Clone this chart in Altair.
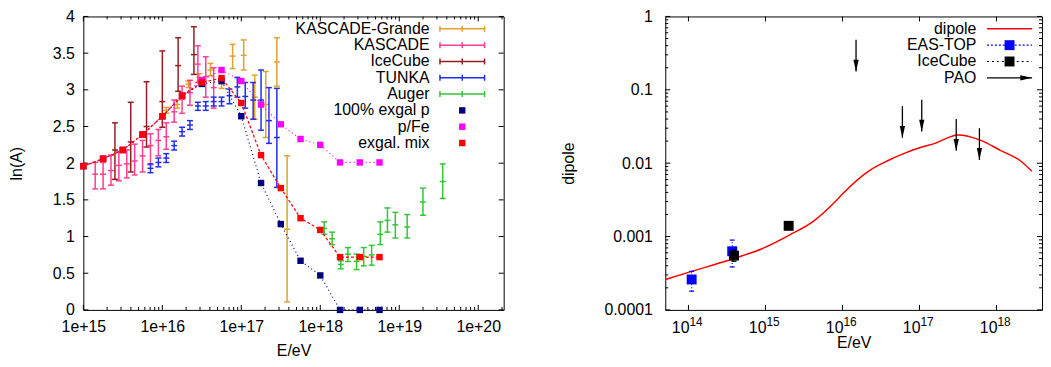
import altair as alt
import pandas as pd

FONT = "Liberation Sans"
FS = 16

# ---------------- Left panel: ln(A) vs E ----------------
model_logE = [15.0, 15.25, 15.5, 15.75, 16.0, 16.25, 16.5, 16.75, 17.0, 17.25,
              17.5, 17.75, 18.0, 18.25, 18.5, 18.75]
model_p = [1.96, 2.06, 2.18, 2.39, 2.64, 2.92, 3.08, 3.12, 2.64, 1.73,
           1.17, 0.67, 0.47, 0.0, 0.0, 0.0]
model_pfe = [1.96, 2.06, 2.18, 2.39, 2.64, 2.92, 3.13, 3.27, 3.12, 2.80,
             2.53, 2.33, 2.25, 2.01, 2.01, 2.01]
model_mix = [1.96, 2.06, 2.18, 2.39, 2.64, 2.92, 3.10, 3.16, 2.82, 2.11,
             1.66, 1.25, 1.09, 0.72, 0.72, 0.72]

kg_logE = [16.05, 16.19, 16.33, 16.47, 16.61, 16.75, 16.89, 17.03, 17.17, 17.31, 17.45, 17.58]
kg_val = [2.72, 2.80, 3.08, 3.17, 3.27, 3.08, 3.46, 3.47, 2.90, 2.80, 3.38, 1.10]
kg_lo = [2.68, 2.75, 3.03, 3.12, 3.19, 3.02, 3.29, 3.27, 2.60, 2.35, 3.05, 0.11]
kg_hi = [2.76, 2.86, 3.12, 3.22, 3.36, 3.13, 3.62, 3.68, 3.20, 3.25, 3.71, 2.10]

ka_logE = [15.15, 15.25, 15.35, 15.45, 15.55, 15.65, 15.75, 15.85, 15.95, 16.05,
           16.15, 16.25, 16.35, 16.45, 16.55, 16.65]
ka_val = [1.85, 1.85, 1.90, 1.97, 1.99, 2.03, 2.10, 2.24, 2.31, 2.36,
          2.70, 2.87, 2.96, 3.35, 3.18, 3.03]
ka_lo = [1.65, 1.65, 1.70, 1.76, 1.80, 1.84, 1.88, 1.98, 2.10, 2.19,
         2.56, 2.68, 2.79, 3.10, 2.90, 2.75]
ka_hi = [2.01, 2.01, 2.11, 2.16, 2.18, 2.26, 2.31, 2.40, 2.46, 2.55,
         2.86, 3.05, 3.13, 3.60, 3.45, 3.30]

ic_logE = [15.4, 15.6, 15.8, 16.0, 16.2, 16.4]
ic_val = [2.18, 2.29, 2.50, 2.84, 3.33, 3.48]
ic_lo = [1.78, 1.88, 2.22, 2.49, 2.98, 3.21]
ic_hi = [2.55, 2.83, 3.11, 3.53, 3.71, 3.86]

tu_logE = [15.85, 15.95, 16.05, 16.15, 16.25, 16.35, 16.45, 16.55, 16.65, 16.75,
           16.85, 16.95, 17.05, 17.15, 17.25, 17.35, 17.45]
tu_val = [1.93, 2.01, 2.07, 2.24, 2.43, 2.52, 2.78, 2.78, 2.84, 2.84,
          2.92, 3.04, 2.91, 2.86, 2.86, 2.58, 2.35]
tu_lo = [1.87, 1.95, 2.01, 2.18, 2.37, 2.46, 2.72, 2.72, 2.78, 2.78,
         2.81, 2.90, 2.75, 2.60, 2.45, 2.27, 1.67]
tu_hi = [1.99, 2.07, 2.13, 2.30, 2.49, 2.58, 2.83, 2.84, 2.90, 2.90,
         3.01, 3.17, 3.10, 3.10, 3.27, 3.03, 3.02]

au_logE = [18.05, 18.15, 18.26, 18.35, 18.46, 18.55, 18.65, 18.76, 18.85, 18.95, 19.1, 19.3, 19.55]
au_val = [1.11, 0.97, 0.62, 0.76, 0.66, 0.73, 0.75, 1.03, 1.22, 1.16, 1.13, 1.47, 1.75]
au_lo = [1.03, 0.89, 0.56, 0.66, 0.55, 0.60, 0.61, 0.89, 1.06, 0.98, 0.98, 1.29, 1.52]
au_hi = [1.20, 1.06, 0.67, 0.85, 0.76, 0.85, 0.88, 1.20, 1.39, 1.33, 1.30, 1.66, 1.99]

left_xticks = [1e15, 1e16, 1e17, 1e18, 1e19, 1e20]
left_xminor = [m * 10 ** k for k in range(15, 21) for m in range(2, 10) if m * 10 ** k <= 2.1e20]
left_yticks = [0, 0.5, 1, 1.5, 2, 2.5, 3, 3.5, 4]

# ---------------- Right panel: dipole vs E ----------------
dip_logE = [13.70, 14.0, 14.56, 15.0, 15.31, 15.625, 15.92, 16.0, 16.35, 16.6,
            16.77, 17.0, 17.2, 17.5, 17.79, 18.05, 18.3, 18.46]
dip_log = [-3.585, -3.488, -3.31, -3.145, -2.98, -2.79, -2.51, -2.42, -2.10, -1.96,
           -1.88, -1.79, -1.73, -1.615, -1.685, -1.825, -1.96, -2.11]

eas_E = [1.1e14, 3.7e14]
eas_val = [2.6e-4, 6.3e-4]
eas_lo = [1.8e-4, 3.85e-4]
eas_hi = [3.35e-4, 8.95e-4]

icd_E = [3.9e14, 2.0e15]
icd_val = [5.5e-4, 1.4e-3]
icd_lo = [4.6e-4, 1.25e-3]
icd_hi = [6.5e-4, 1.55e-3]

pao_E = [1.5e16, 6.0e16, 1.07e17, 3.0e17, 6.0e17]
pao_ul = [0.48, 0.060, 0.073, 0.040, 0.030]
pao_arrow_factor = 0.37

right_xticks = [1e14, 1e15, 1e16, 1e17, 1e18]
right_xexp = ["14", "15", "16", "17", "18"]
right_yticks = [1e-4, 1e-3, 1e-2, 1e-1, 1]
right_yminor = [m * 10.0 ** k for k in range(-4, 0) for m in range(2, 10)]

# ---------------- sizes / scales ----------------
W1, W2, H = 424, 380, 296
xs1 = alt.Scale(type="log", domain=[1e15, 2.1e20], nice=False, padding=0)
ys1 = alt.Scale(type="linear", domain=[0, 4], nice=False, zero=False, padding=0)
xs2 = alt.Scale(type="log", domain=[5e13, 3.9e18], nice=False, padding=0)
ys2 = alt.Scale(type="log", domain=[1e-4, 1], nice=False, padding=0)


def X(f, sc):
    return alt.X(f"{f}:Q", scale=sc, axis=None)


def Y(f, sc):
    return alt.Y(f"{f}:Q", scale=sc, axis=None)


ONE = pd.DataFrame({"a": [0]})


def frame_ticks(xs, ys, W, xmaj, xmin, ymaj, ymin, L=5, l=3):
    out = []
    for vals, ln in [(xmaj, L), (xmin, l)]:
        if not vals:
            continue
        d = alt.Chart(pd.DataFrame({"t": vals}))
        out.append(d.mark_rule(color="black", strokeWidth=1).encode(
            x=X("t", xs), y=alt.value(H), y2=alt.value(H - ln)))
        out.append(d.mark_rule(color="black", strokeWidth=1).encode(
            x=X("t", xs), y=alt.value(0), y2=alt.value(ln)))
    for vals, ln in [(ymaj, L), (ymin, l)]:
        if not vals:
            continue
        d = alt.Chart(pd.DataFrame({"t": vals}))
        out.append(d.mark_rule(color="black", strokeWidth=1).encode(
            y=Y("t", ys), x=alt.value(0), x2=alt.value(ln)))
        out.append(d.mark_rule(color="black", strokeWidth=1).encode(
            y=Y("t", ys), x=alt.value(W), x2=alt.value(W - ln)))
    return out


def errbars(Evals, val, lo, hi, color, xs, ys, dash=None, width=1.5, cap=6, center=True):
    df = pd.DataFrame({"E": Evals, "v": val, "lo": lo, "hi": hi})
    b = alt.Chart(df)
    kw = dict(color=color, strokeWidth=width)
    if dash:
        kw["strokeDash"] = dash
    out = [b.mark_rule(**kw).encode(x=X("E", xs), y=Y("lo", ys), y2=alt.Y2("hi:Q"))]
    fields = ["lo", "hi"] + (["v"] if center else [])
    for f in fields:
        out.append(b.mark_tick(color=color, orient="horizontal", size=cap,
                               thickness=width, opacity=1).encode(x=X("E", xs), y=Y(f, ys)))
    return out


def ltext(px, py, s):
    return alt.Chart(ONE).mark_text(align="right", baseline="middle", font=FONT,
                                    fontSize=FS, color="black").encode(
        x=alt.value(px), y=alt.value(py), text=alt.value(s))


def lrule(x1, x2, y1, y2, color, width=1.5, dash=None):
    kw = dict(color=color, strokeWidth=width)
    if dash:
        kw["strokeDash"] = dash
    return alt.Chart(ONE).mark_rule(**kw).encode(
        x=alt.value(x1), x2=alt.value(x2), y=alt.value(y1), y2=alt.value(y2))


def lsquare(px, py, color, size):
    return alt.Chart(ONE).mark_square(color=color, size=size, opacity=1, filled=True).encode(
        x=alt.value(px), y=alt.value(py))


E = lambda logs: [10 ** v for v in logs]

# ---------------- build left panel ----------------
axdf = pd.DataFrame({"E": [1e15, 2.1e20], "v": [0, 4]})
left_layers = [alt.Chart(axdf).mark_point(opacity=0).encode(
    x=alt.X("E:Q", scale=xs1, title="E/eV",
            axis=alt.Axis(values=left_xticks, labelExpr="'1e+' + round(log(datum.value)/LN10)",
                          labelPadding=9, titlePadding=8)),
    y=alt.Y("v:Q", scale=ys1, title="ln(A)",
            axis=alt.Axis(values=left_yticks, format="~g", labelPadding=9, titlePadding=28)))]
left_layers += frame_ticks(xs1, ys1, W1, left_xticks, left_xminor, left_yticks, [])

C_KG, C_KA, C_IC, C_TU, C_AU = "#dfa22f", "#ff3d94", "#951e1e", "#1f2ff0", "#35c535"
C_P, C_PFE, C_MIX = "#000080", "#ff00ff", "#ff0000"

left_layers += errbars(E(kg_logE), kg_val, kg_lo, kg_hi, C_KG, xs1, ys1)
left_layers += errbars(E(ka_logE), ka_val, ka_lo, ka_hi, C_KA, xs1, ys1)
left_layers += errbars(E(ic_logE), ic_val, ic_lo, ic_hi, C_IC, xs1, ys1)
left_layers += errbars(E(tu_logE), tu_val, tu_lo, tu_hi, C_TU, xs1, ys1)
left_layers += errbars(E(au_logE), au_val, au_lo, au_hi, C_AU, xs1, ys1)

for vals, col, dash in [(model_p, C_P, [1, 3]), (model_pfe, C_PFE, [1, 3]), (model_mix, C_MIX, [3, 2])]:
    df = pd.DataFrame({"E": E(model_logE), "v": vals})
    b = alt.Chart(df)
    left_layers.append(b.mark_line(color=col, strokeWidth=1.2, strokeDash=dash).encode(
        x=X("E", xs1), y=Y("v", ys1)))
    left_layers.append(b.mark_square(color=col, size=42, opacity=1).encode(
        x=X("E", xs1), y=Y("v", ys1)))

# left legend
tx = W1 - 74.8
sx1, sx2 = W1 - 64.3, W1 - 19.3
sxc = (sx1 + sx2) / 2
rows = [12.5 + 16.45 * i for i in range(8)]
leg_err = [("KASCADE-Grande", C_KG), ("KASCADE", C_KA), ("IceCube", C_IC),
           ("TUNKA", C_TU), ("Auger", C_AU)]
for i, (lab, col) in enumerate(leg_err):
    y = rows[i]
    left_layers.append(ltext(tx, y, lab))
    left_layers.append(lrule(sx1, sx2, y, y, col))
    for xx in (sx1, sxc, sx2):
        left_layers.append(lrule(xx, xx, y - 3, y + 3, col))
leg_mod = [("100% exgal p", C_P), ("p/Fe", C_PFE), ("exgal. mix", C_MIX)]
for j, (lab, col) in enumerate(leg_mod):
    y = rows[5 + j]
    left_layers.append(ltext(tx, y, lab))
    left_layers.append(lsquare(sxc, y, col, 42))

left = alt.layer(*left_layers).resolve_axis(x="independent", y="independent").properties(
    width=W1, height=H)

# ---------------- build right panel ----------------
dip_df = pd.DataFrame({"E": E(dip_logE), "d": [10 ** v for v in dip_log]})
right_layers = [alt.Chart(dip_df).mark_line(color="#ff0000", strokeWidth=1.5,
                                            interpolate="monotone").encode(
    x=alt.X("E:Q", scale=xs2, title="E/eV",
            axis=alt.Axis(labels=False, titlePadding=25)),
    y=alt.Y("d:Q", scale=ys2, title="dipole",
            axis=alt.Axis(values=right_yticks, format="~g", labelPadding=13, titlePadding=28)))]
right_layers += frame_ticks(xs2, ys2, W2, right_xticks, [], right_yticks, right_yminor)

right_layers += errbars(eas_E, eas_val, eas_lo, eas_hi, "#0000ff", xs2, ys2,
                        dash=[1, 2], width=1.2, cap=5, center=False)
right_layers.append(alt.Chart(pd.DataFrame({"E": eas_E, "v": eas_val})).mark_square(
    color="#0000ff", size=100, opacity=1).encode(x=X("E", xs2), y=Y("v", ys2)))
right_layers += errbars(icd_E, icd_val, icd_lo, icd_hi, "#000000", xs2, ys2,
                        dash=[1, 2], width=1.2, cap=5, center=False)
right_layers.append(alt.Chart(pd.DataFrame({"E": icd_E, "v": icd_val})).mark_square(
    color="#000000", size=100, opacity=1).encode(x=X("E", xs2), y=Y("v", ys2)))

pao_df = pd.DataFrame({"E": pao_E, "ul": pao_ul,
                       "tip": [u * pao_arrow_factor for u in pao_ul]})
pb = alt.Chart(pao_df)
right_layers.append(pb.mark_rule(color="black", strokeWidth=1.3).encode(
    x=X("E", xs2), y=Y("ul", ys2), y2=alt.Y2("tip:Q")))
right_layers.append(pb.mark_point(shape="M-0.45,-1L0,1L0.45,-1Z", filled=True, size=140,
                                  color="black", opacity=1, yOffset=-6).encode(
    x=X("E", xs2), y=Y("tip", ys2)))

lab_df = pd.DataFrame({"E": right_xticks, "exp": right_xexp, "base": ["10"] * 5})
lb = alt.Chart(lab_df)
right_layers.append(lb.mark_text(align="right", baseline="alphabetic", font=FONT,
                                 fontSize=FS, color="black", dx=1).encode(
    x=X("E", xs2), y=alt.value(H + 23), text="base:N"))
right_layers.append(lb.mark_text(align="left", baseline="alphabetic", font=FONT,
                                 fontSize=12, color="black", dx=1).encode(
    x=X("E", xs2), y=alt.value(H + 16), text="exp:N"))

rtx = W2 - 66.2
rsx1, rsx2 = W2 - 55.5, W2 - 10
rsxc = (rsx1 + rsx2) / 2
right_layers.append(ltext(rtx, rows[0], "dipole"))
right_layers.append(lrule(rsx1, rsx2, rows[0], rows[0], "#ff0000"))
right_layers.append(ltext(rtx, rows[1], "EAS-TOP"))
right_layers.append(lrule(rsx1, rsx2, rows[1], rows[1], "#0000ff", width=1.2, dash=[2, 2]))
right_layers.append(lsquare(rsxc, rows[1], "#0000ff", 100))
right_layers.append(ltext(rtx, rows[2], "IceCube"))
right_layers.append(lrule(rsx1, rsx2, rows[2], rows[2], "#000000", width=1.2, dash=[2, 3]))
right_layers.append(lsquare(rsxc, rows[2], "#000000", 100))
right_layers.append(ltext(rtx, rows[3], "PAO"))
right_layers.append(lrule(rsx1, rsx2, rows[3], rows[3], "#000000", width=1.3))
right_layers.append(alt.Chart(ONE).mark_point(shape="M-1,-0.45L1,0L-1,0.45Z", filled=True,
                                              size=140, color="black", opacity=1,
                                              xOffset=-6).encode(
    x=alt.value(rsx2), y=alt.value(rows[3])))

right = alt.layer(*right_layers).resolve_axis(x="independent", y="independent").properties(
    width=W2, height=H)

chart = alt.hconcat(left, right, spacing=52).properties(
    padding={"left": 0, "top": -2, "right": 0, "bottom": 0}
).configure_view(stroke="black", strokeWidth=1).configure_axis(
    domain=False, ticks=False, tickSize=0, grid=False, labelFlush=False,
    labelFont=FONT, labelFontSize=FS, labelColor="black",
    titleFont=FONT, titleFontSize=FS, titleFontWeight="normal", titleColor="black")

chart.save("out.html", embed_options={"renderer": "svg", "actions": False})
